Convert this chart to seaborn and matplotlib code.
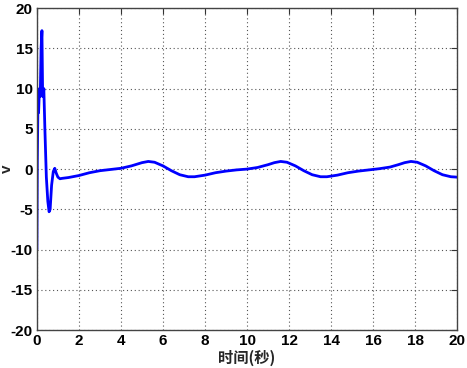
import matplotlib
matplotlib.use("Agg")
import matplotlib.pyplot as plt
import seaborn as sns
import pandas as pd

# data
t = [0.0, 0.02, 0.05, 0.08, 0.12, 0.16, 0.20, 0.24, 0.27, 0.30, 0.33, 0.38, 0.45, 0.52, 0.58, 0.63,
     0.70, 0.78, 0.85, 0.92, 1.0, 1.1, 1.2, 1.5, 2.0, 2.5, 3.0, 3.5, 4.0, 4.5, 5.0, 5.3, 5.6, 6.0,
     6.4, 6.8, 7.2, 7.5, 8.0, 8.5, 9.0, 9.5, 10.0, 10.5, 11.0, 11.3, 11.6, 11.9, 12.3, 12.7, 13.1,
     13.5, 13.8, 14.3, 14.8, 15.3, 15.8, 16.3, 16.8, 17.2, 17.5, 17.8, 18.1, 18.5, 18.9, 19.3, 19.7, 20.0]
v = [-10.0, 1.0, 8.0, 7.0, 10.0, 9.0, 15.0, 17.2, 10.0, 9.0, 10.0, 5.0, -1.0, -4.0, -5.3, -5.0,
     -2.0, -0.3, 0.1, -0.5, -1.0, -1.2, -1.15, -1.05, -0.8, -0.45, -0.2, -0.05, 0.1, 0.4, 0.8, 0.95,
     0.85, 0.4, -0.2, -0.7, -0.95, -0.95, -0.75, -0.45, -0.25, -0.1, 0.0, 0.2, 0.55, 0.8, 0.95, 0.85,
     0.4, -0.2, -0.7, -0.95, -0.95, -0.75, -0.45, -0.25, -0.1, 0.05, 0.25, 0.55, 0.8, 0.95, 0.85,
     0.4, -0.2, -0.7, -0.95, -1.0]
x_ticks = [0, 2, 4, 6, 8, 10, 12, 14, 16, 18, 20]
y_ticks = [-20, -15, -10, -5, 0, 5, 10, 15, 20]
x_label = "时间(秒)"
y_label = "v"

sns.set_style("white")
plt.rcParams["font.family"] = ["Liberation Sans", "Noto Sans CJK SC", "DejaVu Sans"]
plt.rcParams["axes.unicode_minus"] = False

fig = plt.figure(figsize=(4.67, 3.68), dpi=100)
ax = fig.add_axes([0.079, 0.103, 0.900, 0.875])

df = pd.DataFrame({"t": t, "v": v})
sns.lineplot(data=df, x="t", y="v", ax=ax, color="#0000ff", linewidth=2.0,
             estimator=None, sort=False)

ax.set_xlim(0, 20)
ax.set_ylim(-20, 20)
ax.set_xticks(x_ticks)
ax.set_yticks(y_ticks)
ax.set_xticklabels([str(x) for x in x_ticks], fontsize=11, fontweight="bold")
ax.set_yticklabels([str(y) for y in y_ticks], fontsize=11, fontweight="bold")
ax.grid(True, linestyle=(0, (1, 2.5)), color="#555555", linewidth=0.8)
ax.tick_params(direction="in", length=4, top=True, right=True, width=0.8, colors="#333333",
               labelcolor="black", pad=3)
for s in ax.spines.values():
    s.set_color("#444444")
    s.set_linewidth(1.0)
ax.set_xlabel(x_label, fontsize=11, fontweight="bold",
              family=["Noto Sans CJK SC", "DejaVu Sans"], labelpad=1)
ax.set_ylabel(y_label, fontsize=11, fontweight="bold")
ax.yaxis.set_label_coords(-0.054, 0.5)

fig.savefig("out.png", dpi=100, facecolor="white")
